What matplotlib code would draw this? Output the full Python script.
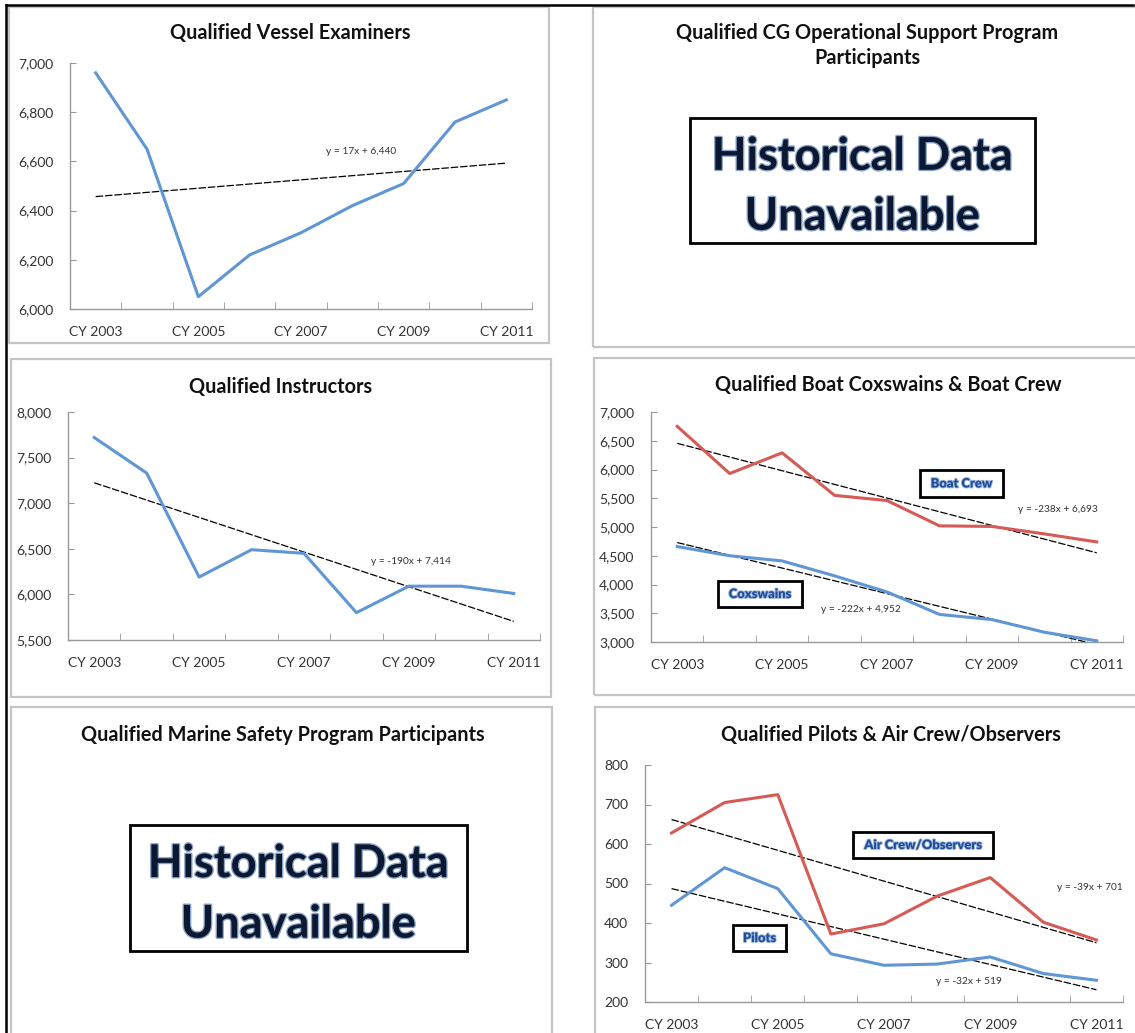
import matplotlib
matplotlib.use("Agg")
import matplotlib.pyplot as plt
import matplotlib.patheffects as pe
from matplotlib.patches import Rectangle
from matplotlib.lines import Line2D

plt.rcParams['font.family'] = ['Lato', 'DejaVu Sans']

W, H = 1135, 1033

years = ['CY 2003', 'CY 2004', 'CY 2005', 'CY 2006', 'CY 2007',
         'CY 2008', 'CY 2009', 'CY 2010', 'CY 2011']

vessel_examiners = [6960, 6650, 6050, 6220, 6310, 6420, 6510, 6760, 6850]
instructors = [7720, 7330, 6190, 6490, 6450, 5800, 6090, 6090, 6010]
boat_crew = [6750, 5930, 6290, 5550, 5460, 5020, 5010, 4880, 4740]
coxswains = [4660, 4500, 4410, 4150, 3870, 3480, 3390, 3170, 3020]
air_crew = [628, 705, 725, 372, 398, 468, 515, 402, 357]
pilots = [445, 540, 487, 322, 293, 296, 314, 272, 255]

# trend lines as printed on the chart: (slope, intercept, label)
trend_vessel = (17, 6440, 'y = 17x + 6,440')
trend_instr = (-190, 7414, 'y = -190x + 7,414')
trend_crew = (-238, 6693, 'y = -238x + 6,693')
trend_cox = (-222, 4952, 'y = -222x + 4,952')
trend_air = (-39, 701, 'y = -39x + 701')
trend_pilot = (-32, 519, 'y = -32x + 519')

BLUE = '#5f96d3'
RED = '#d65a55'
NAVY = '#0b1830'
LBLUE = '#1f4f9a'
TITLE_FS = 14.3

fig = plt.figure(figsize=(W / 100, H / 100), dpi=100)


def fx(x):
    return x / W


def fy(y):
    return 1 - y / H


def px_axes(l, t, r, b):
    return fig.add_axes([fx(l), fy(b), (r - l) / W, (b - t) / H])


def panel(l, t, r, b):
    fig.add_artist(Rectangle((fx(l), fy(b)), (r - l) / W, (b - t) / H,
                             transform=fig.transFigure, fill=False,
                             edgecolor='#c4c4c4', linewidth=1.6))


def ftext(x, y, s, **kw):
    fig.text(fx(x), fy(y), s, ha='center', va='center', **kw)


def trend(ax, tr):
    xs = list(range(len(years)))
    ys = [tr[0] * (i + 1) + tr[1] for i in xs]
    ax.plot(xs, ys, color='black', lw=0.9, ls=(0, (6, 1.5)), zorder=3)


def style(ax, ymin, ymax, step):
    ax.set_xlim(-0.5, len(years) - 0.5)
    ax.set_ylim(ymin, ymax)
    ax.set_yticks(range(ymin, ymax + 1, step))
    ax.set_yticklabels([f'{v:,}' for v in range(ymin, ymax + 1, step)])
    ax.set_xticks(range(0, len(years), 2))
    ax.set_xticklabels(years[::2])
    ax.set_xticks([i + 0.5 for i in range(len(years))], minor=True)
    ax.tick_params(axis='x', which='major', length=0, pad=12,
                   labelsize=10, colors='#333333')
    ax.tick_params(axis='x', which='minor', length=5, direction='in',
                   color='#999999')
    ax.tick_params(axis='y', length=4, direction='in', color='#999999',
                   labelsize=10, labelcolor='#333333', pad=12)
    for s in ['top', 'right']:
        ax.spines[s].set_visible(False)
    for s in ['left', 'bottom']:
        ax.spines[s].set_color('#999999')
        ax.spines[s].set_linewidth(1)
    ax.patch.set_alpha(0)


def label_box(x0, y0, x1, y1, s):
    fig.add_artist(Rectangle((fx(x0) + 0.002, fy(y1) - 0.002), (x1 - x0) / W,
                             (y1 - y0) / H, transform=fig.transFigure,
                             facecolor='#777777', edgecolor='none', alpha=0.5))
    fig.add_artist(Rectangle((fx(x0), fy(y1)), (x1 - x0) / W, (y1 - y0) / H,
                             transform=fig.transFigure, facecolor='white',
                             edgecolor='black', linewidth=2))
    ftext((x0 + x1) / 2, (y0 + y1) / 2, s, fontsize=9.3, fontweight='heavy',
          color=LBLUE,
          path_effects=[pe.withStroke(linewidth=1.3, foreground='#9fb6d9')])


def unavailable(x0, y0, x1, y1):
    fig.add_artist(Rectangle((fx(x0), fy(y1)), (x1 - x0) / W, (y1 - y0) / H,
                             transform=fig.transFigure, facecolor='white',
                             edgecolor='black', linewidth=2))
    cx = (x0 + x1) / 2
    h = y1 - y0
    glow = [pe.withStroke(linewidth=2, foreground='#3d64a3', alpha=0.6)]
    ftext(cx, y0 + h * 0.31, 'Historical Data', fontsize=32.5,
          fontweight='bold', color=NAVY, path_effects=glow)
    ftext(cx, y0 + h * 0.79, 'Unavailable', fontsize=32.5,
          fontweight='bold', color=NAVY, path_effects=glow)


# frame lines of the page
fig.add_artist(Line2D([fx(6), fx(1133)], [fy(5), fy(5)],
                      transform=fig.transFigure, color='black', lw=1.8))
fig.add_artist(Line2D([fx(6), fx(6)], [fy(5), fy(1033)],
                      transform=fig.transFigure, color='black', lw=1.8))

# panel borders
panel(9, 7, 549, 343)
panel(593, 7, 1145, 347)
panel(11, 359, 551, 697)
panel(594, 358, 1145, 695)
panel(11, 707, 552, 1045)
panel(595, 707, 1145, 1045)

xs = list(range(len(years)))

# Qualified Vessel Examiners
ax1 = px_axes(70, 63, 532, 309)
style(ax1, 6000, 7000, 200)
ax1.plot(xs, vessel_examiners, color=BLUE, lw=2.2, zorder=4)
trend(ax1, trend_vessel)
ftext(290, 33, 'Qualified Vessel Examiners', fontsize=TITLE_FS,
      fontweight='bold', color='#111111')
ftext(361, 152, trend_vessel[2], fontsize=7.3, color='#333333')

# Qualified CG Operational Support Program Participants
ftext(867, 33, 'Qualified CG Operational Support Program', fontsize=TITLE_FS,
      fontweight='bold', color='#111111')
ftext(867, 58, 'Participants', fontsize=TITLE_FS, fontweight='bold',
      color='#111111')
unavailable(690, 118, 1035, 243)

# Qualified Instructors
ax2 = px_axes(68, 412, 540, 640)
style(ax2, 5500, 8000, 500)
ax2.plot(xs, instructors, color=BLUE, lw=2.2, zorder=4)
trend(ax2, trend_instr)
ftext(281, 387, 'Qualified Instructors', fontsize=TITLE_FS, fontweight='bold',
      color='#111111')
ftext(411, 561, trend_instr[2], fontsize=7.3, color='#333333')

# Qualified Boat Coxswains & Boat Crew
ax3 = px_axes(651, 412, 1123, 642)
style(ax3, 3000, 7000, 500)
ax3.plot(xs, boat_crew, color=RED, lw=2.2, zorder=4)
ax3.plot(xs, coxswains, color=BLUE, lw=2.2, zorder=4)
trend(ax3, trend_crew)
trend(ax3, trend_cox)
ftext(888, 385, 'Qualified Boat Coxswains & Boat Crew', fontsize=TITLE_FS,
      fontweight='bold', color='#111111')
ftext(1058, 509, trend_crew[2], fontsize=7.3, color='#333333')
ftext(861, 610, trend_cox[2], fontsize=7.3, color='#333333')
label_box(920, 470, 1003, 497, 'Boat Crew')
label_box(718, 581, 802, 607, 'Coxswains')

# Qualified Marine Safety Program Participants
ftext(283, 735, 'Qualified Marine Safety Program Participants',
      fontsize=TITLE_FS, fontweight='bold', color='#111111')
unavailable(130, 825, 467, 951)

# Qualified Pilots & Air Crew/Observers
ax4 = px_axes(645, 765, 1123, 1002)
style(ax4, 200, 800, 100)
ax4.plot(xs, air_crew, color=RED, lw=2.2, zorder=4)
ax4.plot(xs, pilots, color=BLUE, lw=2.2, zorder=4)
trend(ax4, trend_air)
trend(ax4, trend_pilot)
ftext(891, 735, 'Qualified Pilots & Air Crew/Observers', fontsize=TITLE_FS,
      fontweight='bold', color='#111111')
ftext(1090, 888, trend_air[2], fontsize=7.3, color='#333333')
ftext(969, 981, trend_pilot[2], fontsize=7.3, color='#333333')
label_box(853, 832, 993, 858, 'Air Crew/Observers')
label_box(733, 925, 786, 951, 'Pilots')

fig.savefig('out.png', dpi=100, facecolor='white')
